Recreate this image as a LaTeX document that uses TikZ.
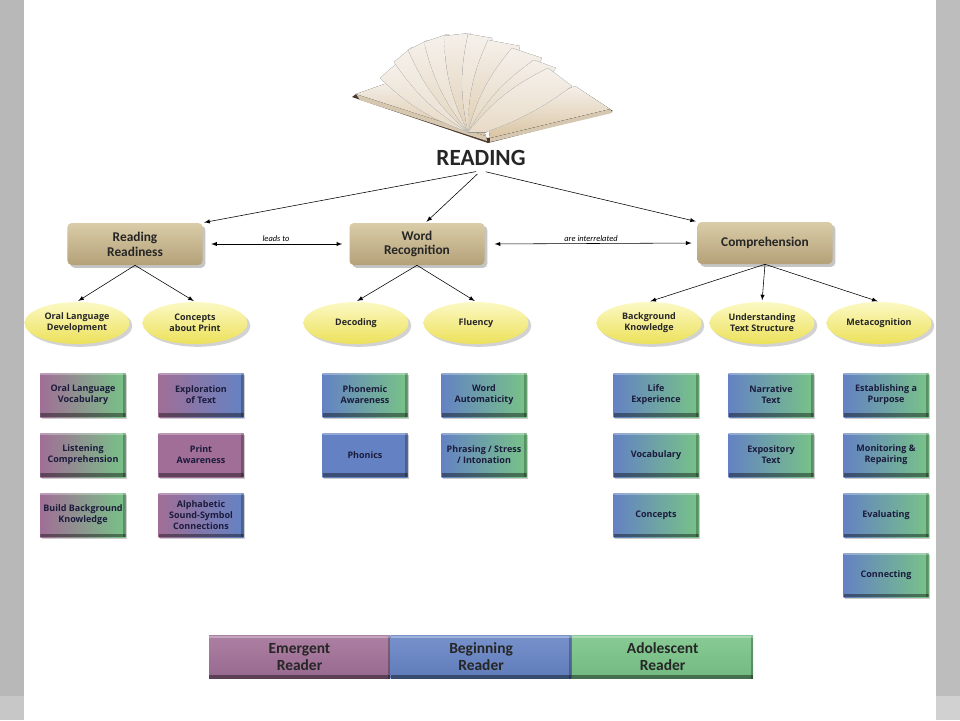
\documentclass[tikz,border=0pt]{standalone}
\usepackage{fontspec}
\setmainfont{Carlito}
\newfontfamily\labelfont{Open Sans}
\usetikzlibrary{shapes.geometric,shadows,positioning}
\definecolor{emergent}{HTML}{A06E96}
\definecolor{beginning}{HTML}{6482C3}
\definecolor{adolescent}{HTML}{78C387}
\definecolor{tantop}{HTML}{D9CCA8}
\definecolor{tanbot}{HTML}{B4A178}
\definecolor{ylwtop}{HTML}{FCF9C4}
\definecolor{ylwbot}{HTML}{ECE15A}
\definecolor{navytext}{HTML}{1B1B3C}
\definecolor{bookcover}{HTML}{4A3A2C}
\definecolor{pagelight}{HTML}{F5F0EA}
\definecolor{pagedark}{HTML}{D9C4A2}
\definecolor{pageside}{HTML}{D6C7B0}
\tikzset{bevel/.style={path picture={
    \fill[black,opacity=.4] (path picture bounding box.south west) rectangle ([yshift=2.5pt]path picture bounding box.south east);
    \fill[black,opacity=.25] (path picture bounding box.south east) rectangle ([xshift=-1.5pt]path picture bounding box.north east);
    \fill[white,opacity=.3] (path picture bounding box.north west) rectangle ([yshift=-1.5pt]path picture bounding box.north east);}}}
\begin{document}
\begin{tikzpicture}[x=0.25mm,y=-0.25mm,>=latex,
        topic/.style={rounded corners=3pt,top color=tantop,bottom color=tanbot,
            minimum width=33.75mm,minimum height=10.5mm,inner sep=1pt,align=center,
            font=\bfseries\fontsize{9.5}{10.5}\selectfont,text=black!85,
            drop shadow={shadow xshift=2pt,shadow yshift=-2pt,opacity=.45}},
        idea/.style={ellipse,top color=ylwtop,bottom color=ylwbot,
            minimum width=26.25mm,minimum height=10.5mm,inner sep=0pt,align=center,
            font=\labelfont\bfseries\fontsize{6.4}{7.8}\selectfont,text=black!85,
            drop shadow={shadow xshift=2pt,shadow yshift=-2pt,opacity=.35}},
        item/.style 2 args={left color=#1,right color=#2,bevel,
            minimum width=21.25mm,minimum height=11mm,inner sep=0pt,align=center,
            font=\labelfont\bfseries\fontsize{6.4}{7.8}\selectfont,text=navytext,
            drop shadow={shadow xshift=1.2pt,shadow yshift=-1.5pt,opacity=.4}},
        stage/.style={top color=#1!88!white,bottom color=#1!95!black,bevel,
            minimum width=45.25mm,minimum height=10.75mm,inner sep=0pt,align=center,
            font=\bfseries\fontsize{11}{12}\selectfont,text=black!85},
        link/.style={->,thin,shorten >=1pt}]
\useasboundingbox (0,0) rectangle (960,720);
\fill[white] (0,0) rectangle (960,720);
\fill[black!28] (0,0) rectangle (24,696);
\fill[black!22] (0,696) rectangle (24,720);
\fill[black!26] (936,0) rectangle (960,696);
\fill[black!18] (936,696) rectangle (960,720);

% book
\fill[bookcover] (352,97) -- (488,143) -- (613,111) -- (606,107) -- (488,138) -- (356,94) -- cycle;
\fill[pageside] (356,94) -- (486,136) -- (487,141) -- (360,100) -- cycle;
\fill[pageside] (490,138) -- (610,109) -- (612,113) -- (490,142) -- cycle;
\fill[top color=pagelight,bottom color=pagedark] (356,94) -- (396,80) -- (476,116) -- (486,136) -- cycle;
\fill[top color=pagelight,bottom color=pagedark] (488,124) -- (575,86) -- (610,109) -- (490,138) -- cycle;
\foreach \ax/\ay/\bx/\by/\t in {380/78/396/64/30, 394/62/412/47/10, 408/50/428/40/45, 424/42/448/34/20,
        444/36/470/33/60, 468/34/492/38/35, 488/40/520/46/70, 512/48/542/58/40, 534/60/556/68/55, 548/68/572/86/25}
    \fill[top color=pagelight,bottom color=pagedark!\t!pagelight!70!pagedark,draw=black!15,very thin]
        (468,132) to[bend left=12] (\ax,\ay) -- (\bx,\by) to[bend left=8] (486,132) -- cycle;

\node[font=\bfseries\fontsize{16.5}{17}\selectfont,text=black!85] (read) at (481,158) {READING};

% main branches
\node[topic] (rr) at (135,244) {Reading\\Readiness};
\node[topic] (wr) at (417,244) {Word\\Recognition};
\node[topic] (comp) at (765,243) {Comprehension};

\draw[link,shorten <=3.5pt] (read.south) -- (rr.north east);
\draw[link,shorten <=3.5pt] (read.south) -- ([xshift=6pt]wr.north);
\draw[link,shorten <=3.5pt] (read.south) -- (comp.north west);

\draw[<->,thin,shorten <=6pt,shorten >=5pt] (rr.east) -- node[above,inner sep=1.5pt,font=\itshape\fontsize{6}{7}\selectfont] {leads to} (wr.west);
\draw[<->,thin,shorten <=7pt,shorten >=4pt] (wr.east) -- node[above,inner sep=1.5pt,font=\itshape\fontsize{6}{7}\selectfont] {are interrelated} (comp.west);

% ellipses
\node[idea] (old) at (77,323) {Oral Language\\Development};
\node[idea] (cap) at (195,323) {Concepts\\about Print};
\node[idea] (dec) at (356,323) {Decoding};
\node[idea] (flu) at (476,323) {Fluency};
\node[idea] (bk) at (649,323) {Background\\Knowledge};
\node[idea] (uts) at (762,323) {Understanding\\Text Structure};
\node[idea] (meta) at (879,323) {Metacognition};

\draw[link] (rr.south) -- (old.north);
\draw[link] (rr.south) -- (cap.north);
\draw[link] (wr.south) -- (dec.north);
\draw[link] (wr.south) -- (flu.north);
\draw[link] (comp.south) -- (bk.north);
\draw[link] (comp.south) -- (uts.north);
\draw[link] (comp.south) -- (meta.north);

% boxes
\node[item={emergent}{adolescent}] (olv) at (83,395) {Oral Language\\Vocabulary};
\node[item={emergent}{adolescent}] (lc) at (83,455) {Listening\\Comprehension};
\node[item={emergent}{adolescent}] (bbk) at (83,515) {Build Background\\Knowledge};
\node[item={emergent}{beginning}] (eot) at (201,395) {Exploration\\of Text};
\node[item={emergent}{emergent}] (pa) at (201,455) {Print\\Awareness};
\node[item={emergent}{beginning}] (ssc) at (201,515) {Alphabetic\\Sound-Symbol\\Connections};
\node[item={beginning}{adolescent}] (pha) at (365,395) {Phonemic\\Awareness};
\node[item={beginning}{beginning}] (phon) at (365,455) {Phonics};
\node[item={beginning}{adolescent}] (wa) at (484,395) {Word\\Automaticity};
\node[item={beginning}{adolescent}] (psi) at (484,455) {Phrasing / Stress\\/ Intonation};
\node[item={beginning}{adolescent}] (le) at (656,395) {Life\\Experience};
\node[item={beginning}{adolescent}] (voc) at (656,455) {Vocabulary};
\node[item={beginning}{adolescent}] (con) at (656,515) {Concepts};
\node[item={beginning}{adolescent}] (nt) at (771,395) {Narrative\\Text};
\node[item={beginning}{adolescent}] (et) at (771,455) {Expository\\Text};
\node[item={beginning}{adolescent}] (ep) at (886,395) {Establishing a\\Purpose};
\node[item={beginning}{adolescent}] (mr) at (886,455) {Monitoring \&\\Repairing};
\node[item={beginning}{adolescent}] (ev) at (886,515) {Evaluating};
\node[item={beginning}{adolescent}] (cn) at (886,575) {Connecting};

% legend
\node[stage=emergent] (em) at (299.5,657) {Emergent\\Reader};
\node[stage=beginning,right=0pt of em] (be) {Beginning\\Reader};
\node[stage=adolescent,right=0pt of be] (ad) {Adolescent\\Reader};
\end{tikzpicture}
\end{document}
